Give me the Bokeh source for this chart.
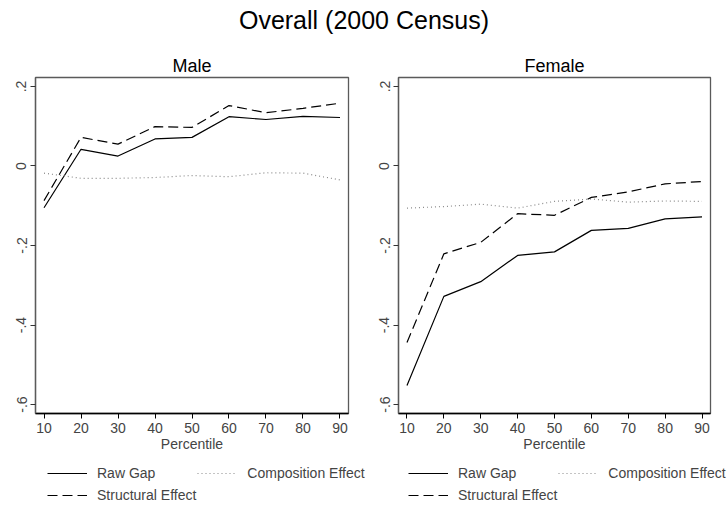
from bokeh.plotting import figure
from bokeh.layouts import column, row
from bokeh.models import Legend, LegendItem, Range1d, FixedTicker
from bokeh.embed import file_html
from bokeh.resources import INLINE

# Quantile decomposition of the gender gap, 2000 Census
percentiles = [10, 20, 30, 40, 50, 60, 70, 80, 90]

male_raw = [-0.105, 0.042, 0.025, 0.068, 0.072, 0.124, 0.117, 0.125, 0.122]
male_comp = [-0.018, -0.031, -0.031, -0.029, -0.024, -0.027, -0.017, -0.018, -0.035]
male_struct = [-0.087, 0.072, 0.055, 0.099, 0.097, 0.152, 0.134, 0.145, 0.158]

female_raw = [-0.552, -0.328, -0.291, -0.225, -0.216, -0.162, -0.157, -0.133, -0.128]
female_comp = [-0.106, -0.102, -0.096, -0.106, -0.089, -0.083, -0.091, -0.088, -0.089]
female_struct = [-0.444, -0.221, -0.192, -0.120, -0.124, -0.079, -0.065, -0.045, -0.039]

y_ticks = [-0.6, -0.4, -0.2, 0.0, 0.2]
y_tick_labels = ["-.6", "-.4", "-.2", "0", ".2"]
x_ticks = percentiles

series_labels = ["Raw Gap", "Composition Effect", "Structural Effect"]

FONT = "Liberation Sans"

# line styles for the three series
STYLES = {
    "Raw Gap": dict(line_color="black", line_width=1.2),
    "Composition Effect": dict(line_color="#8a8a8a", line_width=1.2, line_dash="1 3"),
    "Structural Effect": dict(line_color="black", line_width=1.2, line_dash="10 5"),
}


def panel(name, raw, comp, struct, frame_w, right_border):
    p = figure(frame_width=frame_w, frame_height=336,
               min_border_left=35, min_border_right=right_border,
               min_border_top=32, min_border_bottom=42,
               x_range=Range1d(7.7, 92.3), y_range=Range1d(-0.6226, 0.2226),
               output_backend="svg", toolbar_location=None, title=name)
    p.title.align = "center"
    p.title.text_font = FONT
    p.title.text_font_size = "18px"
    p.title.text_font_style = "normal"
    p.title.text_color = "black"
    p.title.standoff = 4

    p.xgrid.visible = False
    p.ygrid.visible = False
    p.outline_line_color = "#5a5a5a"
    p.outline_line_width = 1.3

    xa = p.xaxis[0]
    xa.ticker = FixedTicker(ticks=x_ticks)
    xa.axis_label = "Percentile"
    xa.axis_label_text_font = FONT
    xa.axis_label_text_font_size = "14px"
    xa.axis_label_text_font_style = "normal"
    xa.axis_label_standoff = 0
    xa.major_label_text_font = FONT
    xa.major_label_text_font_size = "14px"
    xa.major_label_standoff = 4
    xa.major_tick_in = 0
    xa.major_tick_out = 5
    xa.minor_tick_out = 0
    xa.minor_tick_in = 0
    xa.axis_line_color = "black"
    xa.axis_line_width = 1.5
    xa.major_tick_line_color = "black"

    ya = p.yaxis[0]
    ya.ticker = FixedTicker(ticks=y_ticks)
    ya.major_label_overrides = dict(zip(y_ticks, y_tick_labels))
    ya.major_label_orientation = "vertical"
    ya.major_label_text_font = FONT
    ya.major_label_text_font_size = "14px"
    ya.major_label_standoff = 4
    ya.major_tick_in = 0
    ya.major_tick_out = 5
    ya.minor_tick_out = 0
    ya.minor_tick_in = 0
    ya.axis_line_color = "#5a5a5a"
    ya.axis_line_width = 1.3
    ya.major_tick_line_color = "#333333"

    for label, ys in zip(series_labels, [raw, comp, struct]):
        p.line(percentiles, ys, **STYLES[label])
    return p


# Key strip across the bottom: one two-row key under each panel.
# The key renderers carry the series but fall outside this strip's view range,
# so only their legend swatches show.
keys = figure(width=727, height=51, min_border=0,
              x_range=Range1d(-2, -1), y_range=Range1d(-2, -1),
              x_axis_type=None, y_axis_type=None,
              output_backend="svg", toolbar_location=None)
keys.grid.visible = False
keys.outline_line_color = None


def add_key(x0, series, spacing):
    r = {lab: keys.line(percentiles, ys, **STYLES[lab])
         for lab, ys in zip(series_labels, series)}

    def make(items, loc, gap):
        lg = Legend(items=[LegendItem(label=lab, renderers=[r[lab]]) for lab in items],
                    location=loc, orientation="horizontal")
        lg.border_line_color = None
        lg.background_fill_alpha = 0
        lg.label_text_font = FONT
        lg.label_text_font_size = "14px"
        lg.glyph_width = 40
        lg.glyph_height = 20
        lg.label_height = 20
        lg.label_standoff = 10
        lg.spacing = gap
        lg.padding = 0
        lg.margin = 0
        keys.add_layout(lg, "center")

    make(series_labels[:2], (x0, 23), spacing)
    make(series_labels[2:], (x0, 1), 0)


male = panel("Male", male_raw, male_comp, male_struct, 313, 15)
female = panel("Female", female_raw, female_comp, female_struct, 312, 17)
add_key(47, [male_raw, male_comp, male_struct], 42)
add_key(408, [female_raw, female_comp, female_struct], 42)

header = figure(width=727, height=45, x_range=(0, 1), y_range=(0, 1),
                x_axis_type=None, y_axis_type=None,
                output_backend="svg", toolbar_location=None,
                title="Overall (2000 Census)", min_border=0)
header.title.align = "center"
header.title.text_font = FONT
header.title.text_font_size = "25px"
header.title.text_font_style = "normal"
header.title.text_color = "black"
header.title.standoff = 6
header.grid.visible = False
header.outline_line_color = None

layout = column(header, row(male, female, spacing=0), keys, spacing=0)

open("out.html", "w").write(file_html(layout, INLINE))
